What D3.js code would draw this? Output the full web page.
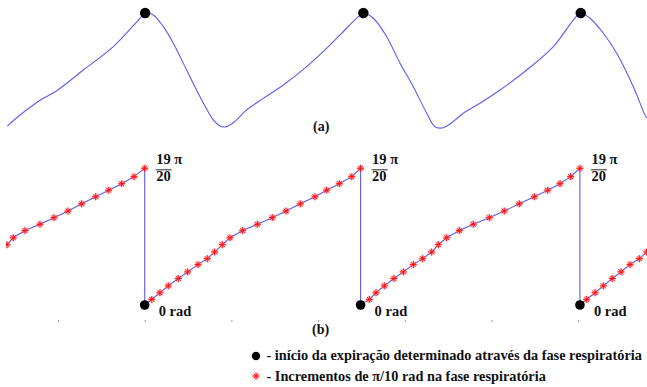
<!DOCTYPE html>
<html>
<head>
<meta charset="utf-8">
<script src="https://cdn.jsdelivr.net/npm/d3@7"></script>
<style>
  html, body { margin: 0; padding: 0; background: #fff; }
  svg { display: block; }
</style>
</head>
<body>
<svg id="chart" width="647" height="387"></svg>
<script>
// (a) respiratory signal: time (s) and normalised amplitude
const respTime = [0.415, 0.562, 0.715, 0.830, 0.985, 1.292, 1.638, 1.946, 2.005, 2.099, 2.215, 2.330, 2.484, 2.638, 2.791, 2.868, 2.926, 3.022, 3.176, 3.368, 3.599, 3.868, 4.118, 4.253, 4.464, 4.522, 4.637, 4.791, 4.945, 5.098, 5.253, 5.348, 5.426, 5.521, 5.675, 5.867, 6.098, 6.406, 6.713, 6.944, 7.029, 7.136, 7.290, 7.444, 7.636, 7.770, 7.793];
const respAmp  = [0.017, 0.113, 0.200, 0.258, 0.324, 0.504, 0.707, 0.954, 1.000, 0.983, 0.881, 0.737, 0.504, 0.272, 0.070, 0.017, 0.009, 0.046, 0.157, 0.258, 0.374, 0.533, 0.707, 0.809, 0.968, 1.000, 0.954, 0.794, 0.563, 0.359, 0.128, 0.011, 0.000, 0.035, 0.128, 0.215, 0.330, 0.504, 0.707, 0.939, 1.000, 0.954, 0.824, 0.650, 0.359, 0.113, 0.087];
// start of expiration picked on the signal (peaks)
const respPeakTime = [2.005, 4.522, 7.029];

// (b) respiratory phase (units of pi) at each increment marker
const phaseLevels = [0.039, 0.085, 0.133, 0.184, 0.230, 0.281, 0.322, 0.368, 0.419, 0.467, 0.517, 0.561, 0.607, 0.653, 0.703, 0.752, 0.798, 0.843, 0.892, 0.950];
// start of expiration found from the phase (phase = 0 rad)
const phaseStartTime = [2.00, 4.49, 7.02];
// times at which the phase reaches each level, per cycle
const cycle0Time = [0.412, 0.484, 0.619, 0.792, 0.954, 1.115, 1.273, 1.435, 1.585, 1.735, 1.877, 2.00]; // levels 8..19
const cycle0First = 8;
const cycle1Time = [2.081, 2.176, 2.272, 2.388, 2.496, 2.615, 2.722, 2.807, 2.895, 2.984, 3.130, 3.299, 3.472, 3.630, 3.795, 3.964, 4.099, 4.245, 4.388, 4.49];
const cycle2Time = [4.591, 4.668, 4.764, 4.875, 4.983, 5.098, 5.206, 5.310, 5.386, 5.483, 5.629, 5.790, 5.975, 6.147, 6.321, 6.494, 6.648, 6.790, 6.913, 7.02];
const cycle3Time = [7.098, 7.194, 7.290, 7.393, 7.494, 7.598, 7.705, 7.790]; // levels 0..7
const axisTicks = [1, 2, 3, 4, 5, 6, 7];

const peakLabelTop = "19 π";
const peakLabelBottom = "20";
const zeroLabel = "0 rad";
const legendTexts = [
  "- início da expiração determinado através da fase respiratória",
  "- Incrementos de π/10 rad na fase respiratória"
];

const FONT = "Liberation Serif";
const svg = d3.select("#chart");
const lineBlue = "#5c5cf2";

const x = d3.scaleLinear().domain([0, 8]).range([-28.7, 664.9]);
const yA = d3.scaleLinear().domain([0, 1]).range([128, 13]);
const yB = d3.scaleLinear().domain([0, 0.95]).range([305, 168.3]);

svg.append("defs").append("clipPath").attr("id", "plotClip")
  .append("rect").attr("x", 6).attr("y", 0).attr("width", 641).attr("height", 387);

function label(sel, txt, px, py, size) {
  return sel.append("text")
    .attr("x", px).attr("y", py)
    .attr("font-family", FONT).attr("font-weight", "bold")
    .attr("font-size", size).attr("fill", "#111")
    .text(txt);
}

// ---- (a) respiratory signal ----
const respData = respTime.map((t, i) => ({ t, v: respAmp[i] }));
const gA = svg.append("g").attr("clip-path", "url(#plotClip)");
gA.append("path")
  .datum(respData)
  .attr("fill", "none")
  .attr("stroke", lineBlue)
  .attr("stroke-width", 1.1)
  .attr("d", d3.line().x(d => x(d.t)).y(d => yA(d.v)).curve(d3.curveCatmullRom.alpha(0.5)));

gA.selectAll("circle.peak")
  .data(respPeakTime)
  .join("circle")
  .attr("class", "peak")
  .attr("cx", d => x(d))
  .attr("cy", yA(1))
  .attr("r", 5.2)
  .attr("fill", "#000");

label(svg, "(a)", 313, 131, 14);

// ---- (b) respiratory phase ----
function cyclePoints(times, firstLevel) {
  return times.map((t, i) => ({ t, p: phaseLevels[firstLevel + i] }));
}
const stars = [
  ...cyclePoints(cycle0Time, cycle0First),
  ...cyclePoints(cycle1Time, 0),
  ...cyclePoints(cycle2Time, 0),
  ...cyclePoints(cycle3Time, 0)
];
// phase trace: ramps joined by vertical resets to 0 rad
const trace = [
  ...cyclePoints(cycle0Time, cycle0First),
  { t: phaseStartTime[0], p: 0 },
  ...cyclePoints(cycle1Time, 0),
  { t: phaseStartTime[1], p: 0 },
  ...cyclePoints(cycle2Time, 0),
  { t: phaseStartTime[2], p: 0 },
  ...cyclePoints(cycle3Time, 0)
];

const gB = svg.append("g").attr("clip-path", "url(#plotClip)");

// faint time ticks
const axis = d3.axisBottom(x).tickValues(axisTicks).tickSize(2).tickFormat("");
const gAxis = svg.append("g").attr("transform", "translate(0,320)").call(axis);
gAxis.select(".domain").remove();
gAxis.selectAll(".tick line").attr("stroke", "#999").attr("stroke-width", 1);

gB.append("path")
  .datum(trace)
  .attr("fill", "none")
  .attr("stroke", lineBlue)
  .attr("stroke-width", 1.1)
  .attr("d", d3.line().x(d => x(d.t)).y(d => yB(d.p)));

const starPath = "M-3.5,0H3.5M0,-3.5V3.5M-2.4,-2.4L2.4,2.4M-2.4,2.4L2.4,-2.4";
const starG = gB.selectAll("g.star")
  .data(stars)
  .join("g")
  .attr("class", "star")
  .attr("transform", d => `translate(${x(d.t)},${yB(d.p)})`);
starG.append("path").attr("d", starPath).attr("stroke", "#ff8a8a").attr("stroke-width", 2.4).attr("opacity", 0.45);
starG.append("path").attr("d", starPath).attr("stroke", "#ff1010").attr("stroke-width", 1);

gB.selectAll("circle.start")
  .data(phaseStartTime)
  .join("circle")
  .attr("class", "start")
  .attr("cx", d => x(d))
  .attr("cy", yB(0))
  .attr("r", 4.8)
  .attr("fill", "#000");

// value labels at each reset
const lab = svg.selectAll("g.lab")
  .data(phaseStartTime)
  .join("g")
  .attr("class", "lab")
  .attr("transform", d => `translate(${x(d)},0)`);
lab.each(function () {
  const g = d3.select(this);
  label(g, peakLabelTop, 11.5, yB(0.95) - 4, 14.5);
  g.append("line").attr("x1", 11).attr("x2", 27).attr("y1", yB(0.95) + 1.5).attr("y2", yB(0.95) + 1.5)
    .attr("stroke", "#111").attr("stroke-width", 0.9);
  label(g, peakLabelBottom, 11.5, yB(0.95) + 13, 14.5);
  label(g, zeroLabel, 14, yB(0) + 11, 14.5);
});

label(svg, "(b)", 312, 334, 14);

// ---- legend ----
const leg = svg.append("g");
leg.append("circle").attr("cx", 256).attr("cy", 356).attr("r", 4.2).attr("fill", "#000");
const ls = leg.append("g").attr("transform", "translate(256,376)");
ls.append("path").attr("d", starPath).attr("stroke", "#ff8a8a").attr("stroke-width", 2.4).attr("opacity", 0.45);
ls.append("path").attr("d", starPath).attr("stroke", "#ff1010").attr("stroke-width", 1);
legendTexts.forEach((d, i) => label(leg, d, 266.5, 360 + i * 21, 14.3));
</script>
</body>
</html>
